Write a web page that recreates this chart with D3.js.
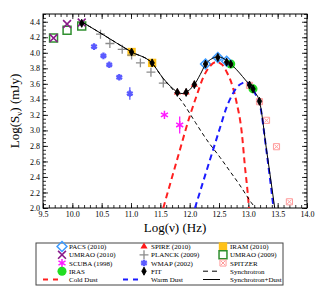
<!DOCTYPE html>
<html>
<head>
<meta charset="utf-8">
<script src="https://cdn.jsdelivr.net/npm/d3@7"></script>
<style>
  body { margin: 0; background: #fff; }
  text { font-family: "Liberation Serif", "DejaVu Serif", serif; }
</style>
</head>
<body>
<div id="scene"></div>
<script>
// measured points (log nu, log S)
var pacsX = [12.27, 12.48, 12.63];
var pacsY = [3.855, 3.94, 3.89];
var spireX = [11.79, 11.94, 12.08];
var spireY = [3.49, 3.49, 3.59];
var iramX = [11.01, 11.36];
var iramY = [4.01, 3.87];
var umrao10X = [9.68, 9.91, 10.16];
var umrao10Y = [4.19, 4.37, 4.39];
var planckX = [10.48, 10.64, 10.85, 11.01, 11.16, 11.34, 11.55];
var planckY = [4.24, 4.12, 4.045, 3.97, 3.87, 3.75, 3.61];
var umrao09X = [9.68, 9.91, 10.16];
var umrao09Y = [4.19, 4.29, 4.345];
var scubaX = [11.57, 11.83];
var scubaY = [3.20, 3.07];
var scubaErr = [0, 0.11];
var wmapX = [10.37, 10.53, 10.63, 10.80, 10.98];
var wmapY = [4.08, 3.96, 3.845, 3.685, 3.475];
var wmapErr = [0, 0, 0, 0, 0.08];
var spitzerX = [13.02, 13.19, 13.31, 13.48, 13.70];
var spitzerY = [3.58, 3.37, 3.13, 2.79, 2.08];
var irasX = [12.70, 13.08];
var irasY = [3.855, 3.535];
var fitX = [10.16, 11.01, 11.36, 11.79, 11.94, 12.08, 12.27, 12.48, 12.63, 12.70, 13.02, 13.08, 13.19];
var fitY = [4.38, 4.01, 3.87, 3.49, 3.49, 3.59, 3.855, 3.94, 3.88, 3.855, 3.585, 3.535, 3.375];

// model curves
var totalX = [10.16, 10.5, 11.01, 11.36, 11.55, 11.72, 11.80, 11.87, 11.94, 12.0, 12.08, 12.18, 12.27, 12.38, 12.48, 12.57, 12.66, 12.75, 12.85, 12.95, 13.02, 13.1, 13.19, 13.31, 13.45];
var totalY = [4.40, 4.245, 4.01, 3.865, 3.67, 3.535, 3.49, 3.475, 3.49, 3.525, 3.59, 3.72, 3.85, 3.925, 3.95, 3.93, 3.88, 3.82, 3.74, 3.65, 3.59, 3.50, 3.375, 2.75, 2.0];
var synchX = [10.16, 10.5, 11.01, 11.36, 11.55, 11.72, 11.81, 11.88, 12.1, 12.29, 12.52, 12.69, 12.85, 12.97, 13.05, 13.12];
var synchY = [4.40, 4.245, 4.01, 3.865, 3.665, 3.52, 3.43, 3.36, 3.10, 2.88, 2.65, 2.47, 2.30, 2.16, 2.07, 2.0];
var coldX = [11.55, 11.8, 12.0, 12.12, 12.23, 12.35, 12.45, 12.55, 12.64, 12.73, 12.80, 12.89, 12.94, 13.0, 13.01];
var coldY = [2.0, 2.66, 3.18, 3.45, 3.68, 3.83, 3.88, 3.85, 3.74, 3.57, 3.36, 2.96, 2.55, 2.10, 2.0];
var warmX = [12.09, 12.3, 12.52, 12.63, 12.72, 12.80, 12.9, 12.97, 13.05, 13.12, 13.19, 13.31, 13.43];
var warmY = [2.0, 2.51, 3.04, 3.30, 3.45, 3.55, 3.61, 3.62, 3.56, 3.47, 3.36, 2.73, 2.0];

var xTicks = [9.5, 10.0, 10.5, 11.0, 11.5, 12.0, 12.5, 13.0, 13.5, 14.0];
var yTicks = [2.0, 2.2, 2.4, 2.6, 2.8, 3.0, 3.2, 3.4, 3.6, 3.8, 4.0, 4.2, 4.4];

var ctx = { w: 321, h: 291, left: 43, right: 307, top: 14, bottom: 208 };

var svg = d3.select("#scene").append("svg")
  .attr("width", ctx.w)
  .attr("height", ctx.h);

var x = d3.scaleLinear().domain([9.5, 14.0]).range([ctx.left, ctx.right]);
var y = d3.scaleLinear().domain([2.0, 4.5]).range([ctx.bottom, ctx.top]);

var minorX = d3.range(95, 141).map(function(d) { return d / 10; });
var minorY = d3.range(40, 91).map(function(d) { return d / 20; });

// axes, ticks pointing inward on all four sides
var addAxis = function(axis, tr, vals, size, fmt) {
  var g = svg.append("g")
    .attr("transform", tr)
    .call(axis.tickValues(vals).tickSize(size).tickPadding(3).tickFormat(fmt));
  g.select(".domain").remove();
  g.selectAll("line").attr("stroke", "#000").attr("stroke-width", 0.8);
  g.selectAll("text").style("font-size", "8px").attr("fill", "#000");
  return g;
};
var none = function() { return ""; };
var f1 = d3.format(".1f");

addAxis(d3.axisBottom(x), "translate(0," + ctx.bottom + ")", minorX, -3, none);
addAxis(d3.axisBottom(x), "translate(0," + ctx.bottom + ")", xTicks, -5, f1);
addAxis(d3.axisTop(x), "translate(0," + ctx.top + ")", minorX, -3, none);
addAxis(d3.axisTop(x), "translate(0," + ctx.top + ")", xTicks, -5, none);
addAxis(d3.axisLeft(y), "translate(" + ctx.left + ",0)", minorY, -3, none);
addAxis(d3.axisLeft(y), "translate(" + ctx.left + ",0)", yTicks, -5, f1);
addAxis(d3.axisRight(y), "translate(" + ctx.right + ",0)", minorY, -3, none);
addAxis(d3.axisRight(y), "translate(" + ctx.right + ",0)", yTicks, -5, none);

svg.append("rect")
  .attr("x", ctx.left).attr("y", ctx.top)
  .attr("width", ctx.right - ctx.left).attr("height", ctx.bottom - ctx.top)
  .attr("fill", "none").attr("stroke", "#000").attr("stroke-width", 1);

svg.append("text")
  .attr("x", (ctx.left + ctx.right) / 2).attr("y", 232)
  .attr("text-anchor", "middle").style("font-size", "13px")
  .text("Log(\u03bd) (Hz)");

svg.append("text")
  .attr("transform", "translate(19," + ((ctx.top + ctx.bottom) / 2) + ") rotate(-90)")
  .attr("text-anchor", "middle").style("font-size", "13px")
  .html("Log(S<tspan font-size='9px' dy='3'>\u03bd</tspan><tspan dy='-3'>) (mJy)</tspan>");

svg.append("clipPath").attr("id", "clip")
  .append("rect")
  .attr("x", ctx.left).attr("y", ctx.top)
  .attr("width", ctx.right - ctx.left).attr("height", ctx.bottom - ctx.top);

var plot = svg.append("g").attr("clip-path", "url(#clip)");

var zip = function(xs, ys) {
  return xs.map(function(d, i) { return [d, ys[i]]; });
};

// marker helpers
var sym = function(type, size) { return d3.symbol().type(type).size(size)(); };

var drawMarks = function(xs, ys, path, fill, stroke, sw) {
  plot.selectAll(null)
    .data(zip(xs, ys))
    .enter()
    .append("path")
    .attr("transform", function(d) { return "translate(" + x(d[0]) + "," + y(d[1]) + ")"; })
    .attr("d", path)
    .attr("fill", fill)
    .attr("stroke", stroke)
    .attr("stroke-width", sw);
};

var drawErr = function(xs, ys, errs, color, sw) {
  plot.selectAll(null)
    .data(xs.map(function(d, i) { return [d, ys[i], errs[i]]; }).filter(function(d) { return d[2] > 0; }))
    .enter()
    .append("line")
    .attr("x1", function(d) { return x(d[0]); })
    .attr("x2", function(d) { return x(d[0]); })
    .attr("y1", function(d) { return y(d[1] - d[2]); })
    .attr("y2", function(d) { return y(d[1] + d[2]); })
    .attr("stroke", color).attr("stroke-width", sw);
};

var colors = {
  pacs: "#3d9bff", spire: "#ff1a1a", iram: "#ffc21a", umrao10: "#8a1a8a",
  planck: "#8c8c8c", umrao09: "#2f8f2f", scuba: "#ff1aff", wmap: "#5a5aff",
  spitzer: "#ff9c9c", iras: "#22dd22", fit: "#000", cold: "#ff2020", warm: "#1c1cff"
};

var shapes = {
  pacs: sym(d3.symbolDiamond2, 62),
  spire: sym(d3.symbolTriangle, 22),
  iram: sym(d3.symbolSquare, 70),
  umrao10: sym(d3.symbolTimes, 42),
  planck: sym(d3.symbolPlus, 28),
  umrao09: sym(d3.symbolSquare2, 80),
  scuba: sym(d3.symbolAsterisk, 46),
  wmap: sym(d3.symbolAsterisk, 30),
  spitzer: sym(d3.symbolSquare2, 48) + sym(d3.symbolTimes, 14),
  iras: sym(d3.symbolCircle, 64),
  fit: sym(d3.symbolDiamond, 18) + "M0,-4V4"
};

drawMarks(iramX, iramY, shapes.iram, colors.iram, "none", 0);
drawMarks(spitzerX, spitzerY, shapes.spitzer, "none", colors.spitzer, 1);
drawMarks(umrao09X, umrao09Y, shapes.umrao09, "none", colors.umrao09, 1.5);
drawMarks(umrao10X, umrao10Y, shapes.umrao10, "none", colors.umrao10, 1.6);
drawMarks(planckX, planckY, shapes.planck, "none", colors.planck, 1.3);
drawErr(wmapX, wmapY, wmapErr, colors.wmap, 1.3);
drawMarks(wmapX, wmapY, shapes.wmap, "none", colors.wmap, 2.3);
drawErr(scubaX, scubaY, scubaErr, colors.scuba, 1.3);
drawMarks(scubaX, scubaY, shapes.scuba, "none", colors.scuba, 1.5);
drawMarks(irasX, irasY, shapes.iras, colors.iras, "none", 0);
drawMarks(pacsX, pacsY, shapes.pacs, "none", colors.pacs, 1.5);
drawMarks(spireX, spireY, shapes.spire, colors.spire, "none", 0);

// model curves
var line = d3.line()
  .x(function(d) { return x(d[0]); })
  .y(function(d) { return y(d[1]); })
  .curve(d3.curveMonotoneX);

var drawCurve = function(xs, ys, color, sw, dash) {
  plot.append("path")
    .datum(zip(xs, ys))
    .attr("d", line)
    .attr("fill", "none")
    .attr("stroke", color)
    .attr("stroke-width", sw)
    .attr("stroke-dasharray", dash);
};

drawCurve(coldX, coldY, colors.cold, 2, "6,4");
drawCurve(warmX, warmY, colors.warm, 2, "6,4");
drawCurve(synchX, synchY, "#000", 1, "4,3");
drawCurve(totalX, totalY, "#000", 1, null);

drawMarks(fitX, fitY, shapes.fit, "#000", "#000", 0.8);

// legend
var legend = svg.append("g");
legend.append("rect")
  .attr("x", 36).attr("y", 243).attr("width", 247).attr("height", 42)
  .attr("fill", "#fff").attr("stroke", "#444").attr("stroke-width", 1);

var rowsY = [246.5, 254.8, 263, 271.2, 279.5];
var colSym = [62, 144, 223];
var colText = [69, 151, 230];

var legendItems = [
  { k: "pacs", t: "PACS (2010)", c: 0, r: 0, fill: "none", sw: 1.5 },
  { k: "spire", t: "SPIRE (2010)", c: 1, r: 0, fill: colors.spire, sw: 0 },
  { k: "iram", t: "IRAM (2010)", c: 2, r: 0, fill: colors.iram, sw: 0 },
  { k: "umrao10", t: "UMRAO (2010)", c: 0, r: 1, fill: "none", sw: 1.6 },
  { k: "planck", t: "PLANCK (2009)", c: 1, r: 1, fill: "none", sw: 1.3 },
  { k: "umrao09", t: "UMRAO (2009)", c: 2, r: 1, fill: "none", sw: 1.5 },
  { k: "scuba", t: "SCUBA (1998)", c: 0, r: 2, fill: "none", sw: 1.5 },
  { k: "wmap", t: "WMAP (2002)", c: 1, r: 2, fill: "none", sw: 2.3 },
  { k: "spitzer", t: "SPITZER", c: 2, r: 2, fill: "none", sw: 1 },
  { k: "iras", t: "IRAS", c: 0, r: 3, fill: colors.iras, sw: 0 },
  { k: "fit", t: "FIT", c: 1, r: 3, fill: "#000", sw: 0.8 }
];

legendItems.forEach(function(d) {
  legend.append("path")
    .attr("transform", "translate(" + colSym[d.c] + "," + rowsY[d.r] + ")")
    .attr("d", shapes[d.k])
    .attr("fill", d.fill)
    .attr("stroke", d.sw > 0 ? colors[d.k] : "none")
    .attr("stroke-width", d.sw);
  legend.append("text")
    .attr("x", colText[d.c]).attr("y", rowsY[d.r] + 2.5)
    .style("font-size", "7px")
    .text(d.t);
});

var legendLines = [
  { t: "Synchrotron", x1: 203, x2: 220, r: 3, c: 2, color: "#000", sw: 1, dash: "5,4" },
  { t: "Cold Dust", x1: 43, x2: 59, r: 4, c: 0, color: colors.cold, sw: 2, dash: "5,5" },
  { t: "Warm Dust", x1: 123, x2: 139, r: 4, c: 1, color: colors.warm, sw: 2, dash: "5,5" },
  { t: "Synchrotron+Dust", x1: 203, x2: 220, r: 4, c: 2, color: "#000", sw: 1, dash: null }
];

legendLines.forEach(function(d) {
  legend.append("line")
    .attr("x1", d.x1).attr("x2", d.x2)
    .attr("y1", rowsY[d.r]).attr("y2", rowsY[d.r])
    .attr("stroke", d.color).attr("stroke-width", d.sw)
    .attr("stroke-dasharray", d.dash);
  legend.append("text")
    .attr("x", colText[d.c]).attr("y", rowsY[d.r] + 2.5)
    .style("font-size", "7px")
    .text(d.t);
});
</script>
</body>
</html>
